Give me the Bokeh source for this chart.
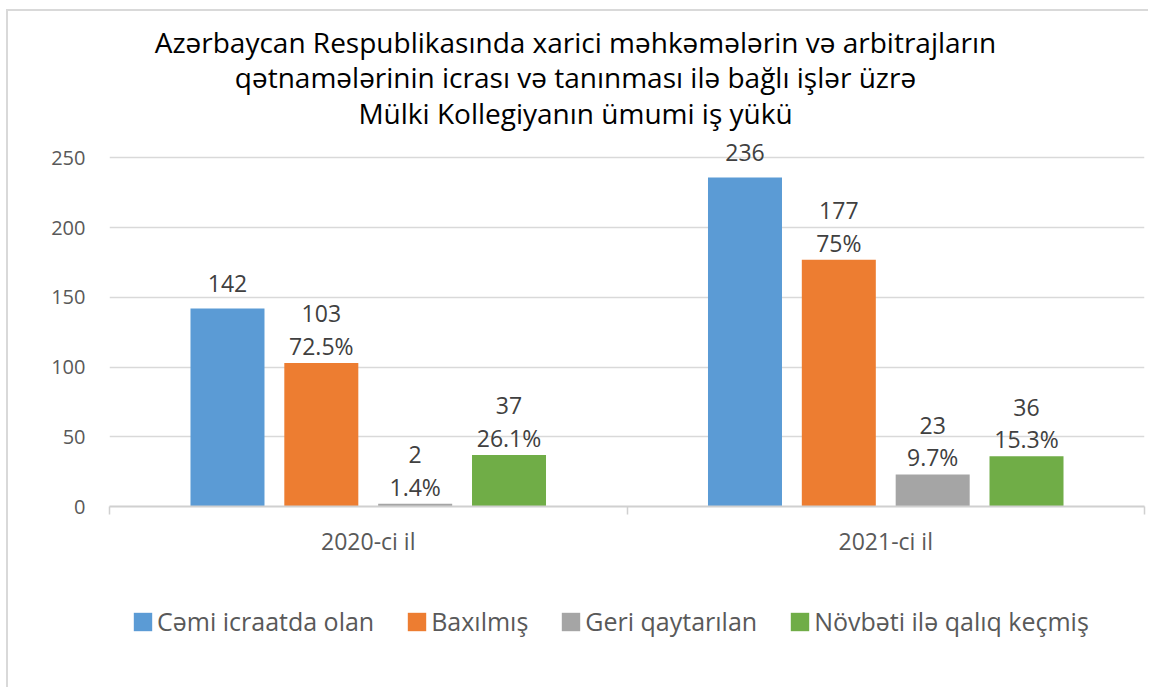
from bokeh.plotting import figure
from bokeh.layouts import column
from bokeh.models import (Range1d, FixedTicker, Legend, LegendItem, ColumnDataSource,
                          LinearAxis, Label)
from bokeh.core.properties import value
from bokeh.embed import file_html
from bokeh.resources import INLINE

# ---- data ----
years = ["2020-ci il", "2021-ci il"]
series_names = ["Cəmi icraatda olan", "Baxılmış", "Geri qaytarılan", "Növbəti ilə qalıq keçmiş"]
cemi = [142, 236]
baxilmis = [103, 177]
geri = [2, 23]
novbeti = [37, 36]
baxilmis_pct = ["72.5%", "75%"]
geri_pct = ["1.4%", "9.7%"]
novbeti_pct = ["26.1%", "15.3%"]
y_ticks = [0, 50, 100, 150, 200, 250]
title_lines = [
    "Azərbaycan Respublikasında xarici məhkəmələrin və arbitrajların",
    "qətnamələrinin icrası və tanınması ilə bağlı işlər üzrə",
    "Mülki Kollegiyanın ümumi iş yükü",
]

colors = ["#5B9BD5", "#ED7D31", "#A5A5A5", "#70AD47"]
values_list = [cemi, baxilmis, geri, novbeti]
pct_list = [None, baxilmis_pct, geri_pct, novbeti_pct]
offsets = [-0.272, -0.0907, 0.0907, 0.272]
bar_w = 0.143

FONT = "Open Sans"
TICK_COLOR = "#595959"
LABEL_COLOR = "#404040"
GRID = "#D9D9D9"

# ---------------- main chart ----------------
p = figure(width=1142, height=565, output_backend="svg", toolbar_location=None,
           x_range=Range1d(0, len(years)), y_range=Range1d(0, 355),
           min_border_left=101, min_border_right=6, min_border_top=0,
           min_border_bottom=70, x_axis_type=None)
p.outline_line_color = None
p.background_fill_color = "white"
p.border_fill_color = "white"

# title lines (screen units relative to the frame)
title_y = [465, 430, 394]
for line, ty in zip(title_lines, title_y):
    p.add_layout(Label(x=466, y=ty, x_units="screen", y_units="screen", text=line,
                       text_align="center", text_baseline="middle", text_font=FONT,
                       text_font_size="28px", text_color="#000000"))

# y axis
p.yaxis.ticker = FixedTicker(ticks=y_ticks)
p.yaxis.axis_line_color = None
p.yaxis.major_tick_line_color = None
p.yaxis.minor_tick_line_color = None
p.yaxis.major_label_standoff = 18
p.yaxis.major_label_text_font = FONT
p.yaxis.major_label_text_font_size = "20px"
p.yaxis.major_label_text_color = TICK_COLOR
p.ygrid.grid_line_color = GRID
p.ygrid.grid_line_width = 1.5
p.xgrid.grid_line_color = None

# x axis (labels at category centres, boundary ticks as minor ticks)
xa = LinearAxis()
centers = [i + 0.5 for i in range(len(years))]
bounds = [i for i in range(len(years) + 1)]
xa.ticker = FixedTicker(ticks=centers, minor_ticks=bounds)
xa.major_label_overrides = {c: y for c, y in zip(centers, years)}
xa.major_tick_line_color = None
xa.major_tick_out = 0
xa.major_tick_in = 0
xa.minor_tick_out = 8
xa.minor_tick_in = 0
xa.minor_tick_line_color = "#D0D0D0"
xa.minor_tick_line_width = 1.5
xa.axis_line_color = "#D0D0D0"
xa.axis_line_width = 2
xa.major_label_standoff = 10
xa.major_label_text_font = FONT
xa.major_label_text_font_size = "23px"
xa.major_label_text_color = TICK_COLOR
p.add_layout(xa, "below")

for k, (vals, col, off) in enumerate(zip(values_list, colors, offsets)):
    xs = [c + off for c in centers]
    src = ColumnDataSource(dict(x=xs, top=vals, lab=[str(v) for v in vals],
                                pct=pct_list[k] if pct_list[k] else [""] * len(vals)))
    p.vbar(x="x", top="top", width=bar_w, bottom=0, source=src,
           fill_color=col, line_color=None)
    if pct_list[k] is None:
        p.text(x="x", y="top", text="lab", source=src, text_align="center",
               text_baseline="middle", y_offset=-25, text_font=value(FONT),
               text_font_size="23px", text_color=LABEL_COLOR)
    else:
        p.text(x="x", y="top", text="pct", source=src, text_align="center",
               text_baseline="middle", y_offset=-17, text_font=value(FONT),
               text_font_size="23px", text_color=LABEL_COLOR)
        p.text(x="x", y="top", text="lab", source=src, text_align="center",
               text_baseline="middle", y_offset=-49, text_font=value(FONT),
               text_font_size="23px", text_color=LABEL_COLOR)

# ---------------- legend strip ----------------
lg = figure(width=1142, height=113, output_backend="svg", toolbar_location=None,
            x_range=Range1d(0, 1), y_range=Range1d(0, 1),
            min_border_left=101, min_border_right=6, min_border_top=0, min_border_bottom=23,
            x_axis_type=None, y_axis_type=None)
lg.outline_line_color = None
lg.xgrid.grid_line_color = None
lg.ygrid.grid_line_color = None
lg.background_fill_color = "white"
lg.border_fill_color = "white"

items = []
for name, col in zip(series_names, colors):
    # zero-height swatch carrier (draws nothing in the strip itself)
    r = lg.vbar(x=[0.5], top=[0], bottom=0, width=0.1, fill_color=col, line_color=None)
    items.append(LegendItem(label=name, renderers=[r]))

legend = Legend(items=items, orientation="horizontal", location=(22, 28),
                glyph_width=23, glyph_height=23, label_standoff=3, spacing=31,
                label_text_font=FONT, label_text_font_size="25px",
                label_text_color=TICK_COLOR, border_line_color=None,
                background_fill_alpha=0, margin=0, padding=10)
lg.add_layout(legend, "center")

layout = column(p, lg, spacing=0)
layout.styles = {"margin-left": "8px", "margin-top": "11px",
                 "box-shadow": "-2px -2px 0 0 #D9D9D9"}

open("out.html", "w").write(file_html(layout, INLINE))
